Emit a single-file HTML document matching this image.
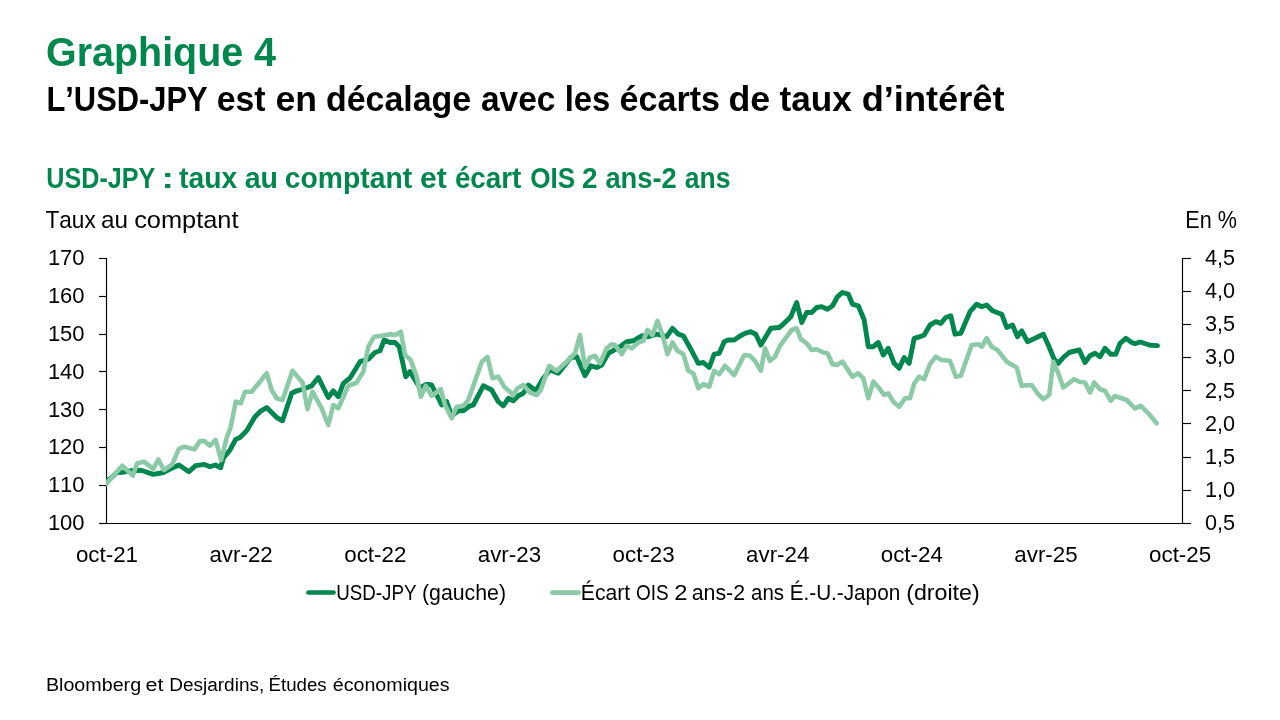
<!DOCTYPE html>
<html><head><meta charset="utf-8"><title>Graphique 4</title>
<style>
html,body{margin:0;padding:0;background:#fff;}
body{width:1280px;height:720px;overflow:hidden;font-family:"Liberation Sans",sans-serif;}
svg{display:block;will-change:transform;}
text{font-family:"Liberation Sans",sans-serif;font-kerning:none;font-variant-ligatures:none;}
</style></head><body>
<svg width="1280" height="720" viewBox="0 0 1280 720">
<rect width="1280" height="720" fill="#fff"/>
<path d="M106.5 258.0 V524" stroke="#000" stroke-width="1.15" fill="none"/>
<path d="M1182.5 258.0 V524" stroke="#000" stroke-width="1.15" fill="none"/>
<path d="M99 523.5 H1191" stroke="#000" stroke-width="1.15" fill="none"/>
<path d="M99 258.50 H106.5" stroke="#000" stroke-width="1.15"/>
<path d="M99 296.50 H106.5" stroke="#000" stroke-width="1.15"/>
<path d="M99 334.50 H106.5" stroke="#000" stroke-width="1.15"/>
<path d="M99 371.50 H106.5" stroke="#000" stroke-width="1.15"/>
<path d="M99 409.50 H106.5" stroke="#000" stroke-width="1.15"/>
<path d="M99 447.50 H106.5" stroke="#000" stroke-width="1.15"/>
<path d="M99 485.50 H106.5" stroke="#000" stroke-width="1.15"/>
<path d="M99 523.50 H106.5" stroke="#000" stroke-width="1.15"/>
<path d="M1182.5 258.50 H1191" stroke="#000" stroke-width="1.15"/>
<path d="M1182.5 291.50 H1191" stroke="#000" stroke-width="1.15"/>
<path d="M1182.5 324.50 H1191" stroke="#000" stroke-width="1.15"/>
<path d="M1182.5 357.50 H1191" stroke="#000" stroke-width="1.15"/>
<path d="M1182.5 390.50 H1191" stroke="#000" stroke-width="1.15"/>
<path d="M1182.5 423.50 H1191" stroke="#000" stroke-width="1.15"/>
<path d="M1182.5 457.50 H1191" stroke="#000" stroke-width="1.15"/>
<path d="M1182.5 490.50 H1191" stroke="#000" stroke-width="1.15"/>
<path d="M1182.5 523.50 H1191" stroke="#000" stroke-width="1.15"/>
<clipPath id="pc"><rect x="106" y="240" width="1085" height="290"/></clipPath><g clip-path="url(#pc)">
<polyline points="106.3,481.2 111.7,477.6 116.8,472.6 122.3,472.4 131.0,470.6 141.0,470.3 153.3,474.4 163.3,472.5 171.1,468.5 179.0,465.0 188.9,471.7 195.6,465.6 204.4,464.4 210.0,466.7 215.6,465.0 220.6,467.8 223.3,458.3 230.0,450.0 235.8,439.2 240.0,437.5 246.7,430.8 255.0,416.7 260.0,411.7 266.7,407.5 276.7,417.5 282.5,420.8 291.7,393.3 296.7,390.8 303.3,389.2 311.7,385.8 318.3,377.5 328.3,397.5 333.3,390.8 338.3,396.7 343.3,383.3 350.0,378.0 355.0,370.0 360.0,361.7 368.3,359.2 375.0,352.5 380.0,350.8 384.2,340.0 390.0,342.5 395.0,342.5 399.2,346.7 405.8,376.7 410.0,371.7 420.0,388.0 426.7,384.2 431.7,385.0 441.7,405.0 446.7,401.7 451.7,415.8 458.3,410.8 463.3,410.8 470.0,405.8 473.3,405.0 483.3,385.8 491.7,390.0 498.3,401.7 503.3,405.8 508.3,398.3 513.3,400.8 518.3,395.8 523.3,393.3 528.3,385.0 535.8,390.8 543.3,378.3 550.0,370.0 558.3,373.3 565.0,365.0 570.8,357.5 576.7,356.7 585.0,375.8 590.8,365.8 596.7,367.5 601.7,365.0 608.3,353.3 614.2,350.0 620.0,346.7 626.7,341.7 633.3,340.8 641.7,335.8 648.3,336.7 656.7,334.2 666.7,336.7 672.5,328.3 678.3,334.2 683.3,335.8 691.7,350.8 698.3,363.3 703.3,362.5 709.2,367.5 714.2,354.2 719.2,353.3 724.2,341.7 728.3,340.0 734.2,340.0 740.0,336.0 745.0,333.3 750.8,331.7 755.8,334.2 760.8,345.0 770.8,328.3 779.2,327.5 784.2,323.3 790.8,316.7 796.7,302.5 801.7,322.5 806.7,312.5 811.7,312.5 816.7,307.5 821.7,306.7 827.5,309.2 832.5,305.8 837.5,296.7 842.5,292.5 848.3,294.2 852.5,304.2 858.3,305.8 864.2,320.0 868.3,346.7 873.3,346.7 878.3,342.5 883.3,355.0 888.3,348.3 894.2,363.3 899.2,368.3 904.2,357.5 909.2,363.3 914.2,338.3 920.0,336.7 924.2,335.0 930.0,325.0 935.8,321.7 940.8,323.3 945.8,317.5 950.8,315.8 955.0,334.2 960.8,333.3 970.0,311.7 976.7,304.2 981.7,306.7 986.7,305.0 992.5,310.8 1001.7,314.2 1006.7,327.5 1012.5,325.0 1017.5,336.7 1021.7,330.8 1027.5,341.7 1035.0,338.3 1043.3,334.2 1048.3,345.0 1054.2,359.2 1058.3,363.3 1063.3,357.5 1069.2,352.5 1079.2,350.0 1085.0,362.5 1090.0,355.8 1095.0,353.3 1100.0,356.7 1105.0,348.3 1110.8,354.2 1115.8,354.2 1120.0,343.3 1125.8,338.3 1131.7,342.5 1135.0,343.6 1140.4,342.0 1150.0,345.3 1157.5,345.6" fill="none" stroke="#00874e" stroke-width="4.9" stroke-linejoin="round" stroke-linecap="round"/>
<polyline points="106.3,483.6 122.3,465.8 132.8,475.6 137.2,463.3 143.9,461.7 153.3,468.9 158.3,459.4 163.9,470.0 172.2,464.4 178.9,448.9 184.4,446.7 194.4,449.4 200.0,441.1 204.4,441.1 210.0,445.6 215.6,440.0 221.1,460.0 226.7,437.8 230.8,426.7 235.8,401.7 240.8,403.3 245.0,391.7 251.7,391.7 260.0,381.7 266.7,373.3 271.7,390.0 276.7,398.3 282.5,400.0 292.5,370.8 302.5,382.5 307.5,409.2 312.5,391.7 321.7,408.3 328.3,425.0 333.3,405.0 338.3,408.3 348.3,385.8 356.7,382.5 363.3,371.7 368.3,346.7 374.2,336.7 381.7,335.8 390.0,334.2 395.0,335.0 400.8,331.7 405.0,355.0 410.8,360.0 416.7,376.7 420.8,396.7 425.8,385.8 431.7,395.8 440.8,389.2 445.0,405.0 451.7,418.3 456.7,406.7 463.3,405.8 468.3,400.0 482.0,361.5 487.5,357.0 492.5,378.3 498.3,376.7 504.2,386.7 513.3,395.0 517.5,388.3 523.3,385.0 530.0,392.5 536.7,395.0 540.8,390.0 549.2,365.8 556.7,370.8 566.7,361.7 575.0,353.3 580.0,335.0 585.0,366.7 590.0,357.5 595.0,355.8 600.0,363.3 606.7,348.3 611.7,344.2 615.0,345.0 621.7,354.2 626.7,345.8 631.7,348.3 638.3,342.5 643.3,340.8 647.5,330.0 652.5,335.0 657.5,320.8 662.5,335.0 667.5,354.2 672.5,342.5 677.5,350.8 683.3,354.2 688.3,370.8 693.3,373.3 698.3,388.3 703.3,384.2 709.2,386.7 714.2,370.8 719.2,374.2 725.0,365.8 734.2,375.0 743.3,356.7 745.0,355.0 750.0,355.8 755.0,360.8 760.8,370.8 765.0,348.3 770.0,360.8 775.0,356.7 780.0,345.8 786.7,336.7 791.7,330.0 796.7,328.3 800.8,339.2 806.7,343.3 811.7,350.0 816.7,349.2 823.3,352.5 827.5,353.3 832.5,364.2 836.7,365.0 842.5,361.7 852.5,376.7 858.3,373.3 863.3,378.3 868.3,398.3 873.3,381.7 879.2,388.3 884.2,395.0 888.3,393.3 893.3,401.7 899.2,406.7 905.0,398.3 910.0,398.3 914.2,383.3 919.2,376.7 924.2,379.2 930.0,364.2 935.8,356.7 941.7,360.0 950.0,360.8 955.8,376.7 960.8,375.8 971.7,345.0 978.3,344.2 981.7,346.7 986.7,338.3 991.7,346.7 997.5,350.0 1006.7,361.7 1016.7,367.5 1021.7,385.8 1031.7,385.0 1037.5,393.3 1043.3,399.2 1049.2,395.0 1053.3,361.7 1058.3,373.3 1063.3,387.5 1074.2,379.2 1079.2,381.7 1085.0,382.5 1090.0,392.5 1094.2,382.5 1100.0,389.2 1105.0,390.8 1110.8,400.8 1115.0,395.8 1121.7,398.3 1126.7,400.0 1135.0,408.3 1140.8,405.8 1148.3,413.3 1156.7,423.3" fill="none" stroke="#8cc9a7" stroke-width="4.6" stroke-linejoin="round" stroke-linecap="round"/>
</g>
<text x="46.0" y="66.3" font-size="41.50" font-weight="bold" fill="#00874e" text-anchor="start" textLength="197.2" lengthAdjust="spacingAndGlyphs">Graphique</text>
<text x="253.9" y="66.3" font-size="41.50" font-weight="bold" fill="#00874e" text-anchor="start" textLength="22.0" lengthAdjust="spacingAndGlyphs">4</text>
<text x="46.4" y="111.4" font-size="35.50" font-weight="bold" fill="#000" text-anchor="start" textLength="161.3" lengthAdjust="spacingAndGlyphs">L’USD-JPY</text>
<text x="216.7" y="111.4" font-size="35.50" font-weight="bold" fill="#000" text-anchor="start" textLength="48.8" lengthAdjust="spacingAndGlyphs">est</text>
<text x="275.4" y="111.4" font-size="35.50" font-weight="bold" fill="#000" text-anchor="start" textLength="41.5" lengthAdjust="spacingAndGlyphs">en</text>
<text x="325.9" y="111.4" font-size="35.50" font-weight="bold" fill="#000" text-anchor="start" textLength="145.3" lengthAdjust="spacingAndGlyphs">décalage</text>
<text x="480.9" y="111.4" font-size="35.50" font-weight="bold" fill="#000" text-anchor="start" textLength="74.5" lengthAdjust="spacingAndGlyphs">avec</text>
<text x="564.7" y="111.4" font-size="35.50" font-weight="bold" fill="#000" text-anchor="start" textLength="45.6" lengthAdjust="spacingAndGlyphs">les</text>
<text x="619.6" y="111.4" font-size="35.50" font-weight="bold" fill="#000" text-anchor="start" textLength="100.4" lengthAdjust="spacingAndGlyphs">écarts</text>
<text x="728.5" y="111.4" font-size="35.50" font-weight="bold" fill="#000" text-anchor="start" textLength="41.7" lengthAdjust="spacingAndGlyphs">de</text>
<text x="779.6" y="111.4" font-size="35.50" font-weight="bold" fill="#000" text-anchor="start" textLength="72.3" lengthAdjust="spacingAndGlyphs">taux</text>
<text x="861.7" y="111.4" font-size="35.50" font-weight="bold" fill="#000" text-anchor="start" textLength="142.8" lengthAdjust="spacingAndGlyphs">d’intérêt</text>
<text x="46.2" y="188.3" font-size="29.30" font-weight="bold" fill="#00874e" text-anchor="start" textLength="109.2" lengthAdjust="spacingAndGlyphs">USD-JPY</text>
<text x="161.4" y="188.3" font-size="29.30" font-weight="bold" fill="#00874e" text-anchor="start" textLength="12.4" lengthAdjust="spacingAndGlyphs">:</text>
<text x="179.1" y="188.3" font-size="29.30" font-weight="bold" fill="#00874e" text-anchor="start" textLength="58.2" lengthAdjust="spacingAndGlyphs">taux</text>
<text x="244.7" y="188.3" font-size="29.30" font-weight="bold" fill="#00874e" text-anchor="start" textLength="33.3" lengthAdjust="spacingAndGlyphs">au</text>
<text x="284.8" y="188.3" font-size="29.30" font-weight="bold" fill="#00874e" text-anchor="start" textLength="127.4" lengthAdjust="spacingAndGlyphs">comptant</text>
<text x="420.0" y="188.3" font-size="29.30" font-weight="bold" fill="#00874e" text-anchor="start" textLength="26.8" lengthAdjust="spacingAndGlyphs">et</text>
<text x="454.9" y="188.3" font-size="29.30" font-weight="bold" fill="#00874e" text-anchor="start" textLength="66.5" lengthAdjust="spacingAndGlyphs">écart</text>
<text x="530.3" y="188.3" font-size="29.30" font-weight="bold" fill="#00874e" text-anchor="start" textLength="44.9" lengthAdjust="spacingAndGlyphs">OIS</text>
<text x="582.1" y="188.3" font-size="29.30" font-weight="bold" fill="#00874e" text-anchor="start" textLength="15.5" lengthAdjust="spacingAndGlyphs">2</text>
<text x="605.4" y="188.3" font-size="29.30" font-weight="bold" fill="#00874e" text-anchor="start" textLength="71.3" lengthAdjust="spacingAndGlyphs">ans-2</text>
<text x="684.8" y="188.3" font-size="29.30" font-weight="bold" fill="#00874e" text-anchor="start" textLength="45.6" lengthAdjust="spacingAndGlyphs">ans</text>
<text x="45.5" y="227.9" font-size="23.80" font-weight="normal" fill="#000" text-anchor="start" textLength="50.2" lengthAdjust="spacingAndGlyphs">Taux</text>
<text x="100.9" y="227.9" font-size="23.80" font-weight="normal" fill="#000" text-anchor="start" textLength="27.0" lengthAdjust="spacingAndGlyphs">au</text>
<text x="134.2" y="227.9" font-size="23.80" font-weight="normal" fill="#000" text-anchor="start" textLength="104.3" lengthAdjust="spacingAndGlyphs">comptant</text>
<text x="1185.3" y="227.9" font-size="23.80" font-weight="normal" fill="#000" text-anchor="start" textLength="51.6" lengthAdjust="spacingAndGlyphs">En %</text>
<text x="336.2" y="599.8" font-size="22.70" font-weight="normal" fill="#000" text-anchor="start" textLength="80.2" lengthAdjust="spacingAndGlyphs">USD-JPY</text>
<text x="422.0" y="599.8" font-size="22.70" font-weight="normal" fill="#000" text-anchor="start" textLength="84.0" lengthAdjust="spacingAndGlyphs">(gauche)</text>
<text x="580.8" y="599.8" font-size="22.70" font-weight="normal" fill="#000" text-anchor="start" textLength="49.3" lengthAdjust="spacingAndGlyphs">Écart</text>
<text x="636.1" y="599.8" font-size="22.70" font-weight="normal" fill="#000" text-anchor="start" textLength="32.6" lengthAdjust="spacingAndGlyphs">OIS</text>
<text x="674.2" y="599.8" font-size="22.70" font-weight="normal" fill="#000" text-anchor="start" textLength="13.2" lengthAdjust="spacingAndGlyphs">2</text>
<text x="691.7" y="599.8" font-size="22.70" font-weight="normal" fill="#000" text-anchor="start" textLength="53.4" lengthAdjust="spacingAndGlyphs">ans-2</text>
<text x="751.0" y="599.8" font-size="22.70" font-weight="normal" fill="#000" text-anchor="start" textLength="33.0" lengthAdjust="spacingAndGlyphs">ans</text>
<text x="789.7" y="599.8" font-size="22.70" font-weight="normal" fill="#000" text-anchor="start" textLength="110.5" lengthAdjust="spacingAndGlyphs">É.-U.-Japon</text>
<text x="906.2" y="599.8" font-size="22.70" font-weight="normal" fill="#000" text-anchor="start" textLength="73.5" lengthAdjust="spacingAndGlyphs">(droite)</text>
<text x="45.9" y="690.6" font-size="18.00" font-weight="normal" fill="#000" text-anchor="start" textLength="95.2" lengthAdjust="spacingAndGlyphs">Bloomberg</text>
<text x="145.5" y="690.6" font-size="18.00" font-weight="normal" fill="#000" text-anchor="start" textLength="17.9" lengthAdjust="spacingAndGlyphs">et</text>
<text x="169.2" y="690.6" font-size="18.00" font-weight="normal" fill="#000" text-anchor="start" textLength="95.1" lengthAdjust="spacingAndGlyphs">Desjardins,</text>
<text x="268.5" y="690.6" font-size="18.00" font-weight="normal" fill="#000" text-anchor="start" textLength="58.1" lengthAdjust="spacingAndGlyphs">Études</text>
<text x="332.8" y="690.6" font-size="18.00" font-weight="normal" fill="#000" text-anchor="start" textLength="116.8" lengthAdjust="spacingAndGlyphs">économiques</text>
<text x="84.6" y="530.1" font-size="22.50" font-weight="normal" fill="#000" text-anchor="end" textLength="36.7" lengthAdjust="spacingAndGlyphs">100</text>
<text x="84.6" y="492.2" font-size="22.50" font-weight="normal" fill="#000" text-anchor="end" textLength="36.7" lengthAdjust="spacingAndGlyphs">110</text>
<text x="84.6" y="454.4" font-size="22.50" font-weight="normal" fill="#000" text-anchor="end" textLength="36.7" lengthAdjust="spacingAndGlyphs">120</text>
<text x="84.6" y="416.5" font-size="22.50" font-weight="normal" fill="#000" text-anchor="end" textLength="36.7" lengthAdjust="spacingAndGlyphs">130</text>
<text x="84.6" y="378.7" font-size="22.50" font-weight="normal" fill="#000" text-anchor="end" textLength="36.7" lengthAdjust="spacingAndGlyphs">140</text>
<text x="84.6" y="340.8" font-size="22.50" font-weight="normal" fill="#000" text-anchor="end" textLength="36.7" lengthAdjust="spacingAndGlyphs">150</text>
<text x="84.6" y="303.0" font-size="22.50" font-weight="normal" fill="#000" text-anchor="end" textLength="36.7" lengthAdjust="spacingAndGlyphs">160</text>
<text x="84.6" y="265.1" font-size="22.50" font-weight="normal" fill="#000" text-anchor="end" textLength="36.7" lengthAdjust="spacingAndGlyphs">170</text>
<text x="1205.0" y="530.0" font-size="22.50" font-weight="normal" fill="#000" text-anchor="start" textLength="30.1" lengthAdjust="spacingAndGlyphs">0,5</text>
<text x="1205.0" y="496.9" font-size="22.50" font-weight="normal" fill="#000" text-anchor="start" textLength="30.1" lengthAdjust="spacingAndGlyphs">1,0</text>
<text x="1205.0" y="463.8" font-size="22.50" font-weight="normal" fill="#000" text-anchor="start" textLength="30.1" lengthAdjust="spacingAndGlyphs">1,5</text>
<text x="1205.0" y="430.6" font-size="22.50" font-weight="normal" fill="#000" text-anchor="start" textLength="30.1" lengthAdjust="spacingAndGlyphs">2,0</text>
<text x="1205.0" y="397.5" font-size="22.50" font-weight="normal" fill="#000" text-anchor="start" textLength="30.1" lengthAdjust="spacingAndGlyphs">2,5</text>
<text x="1205.0" y="364.4" font-size="22.50" font-weight="normal" fill="#000" text-anchor="start" textLength="30.1" lengthAdjust="spacingAndGlyphs">3,0</text>
<text x="1205.0" y="331.2" font-size="22.50" font-weight="normal" fill="#000" text-anchor="start" textLength="30.1" lengthAdjust="spacingAndGlyphs">3,5</text>
<text x="1205.0" y="298.1" font-size="22.50" font-weight="normal" fill="#000" text-anchor="start" textLength="30.1" lengthAdjust="spacingAndGlyphs">4,0</text>
<text x="1205.0" y="265.0" font-size="22.50" font-weight="normal" fill="#000" text-anchor="start" textLength="30.1" lengthAdjust="spacingAndGlyphs">4,5</text>
<text x="107.0" y="561.9" font-size="22.50" font-weight="normal" fill="#000" text-anchor="middle" textLength="62.1" lengthAdjust="spacingAndGlyphs">oct-21</text>
<text x="241.1" y="561.9" font-size="22.50" font-weight="normal" fill="#000" text-anchor="middle" textLength="63.3" lengthAdjust="spacingAndGlyphs">avr-22</text>
<text x="375.3" y="561.9" font-size="22.50" font-weight="normal" fill="#000" text-anchor="middle" textLength="62.1" lengthAdjust="spacingAndGlyphs">oct-22</text>
<text x="509.4" y="561.9" font-size="22.50" font-weight="normal" fill="#000" text-anchor="middle" textLength="63.3" lengthAdjust="spacingAndGlyphs">avr-23</text>
<text x="643.6" y="561.9" font-size="22.50" font-weight="normal" fill="#000" text-anchor="middle" textLength="62.1" lengthAdjust="spacingAndGlyphs">oct-23</text>
<text x="777.7" y="561.9" font-size="22.50" font-weight="normal" fill="#000" text-anchor="middle" textLength="63.3" lengthAdjust="spacingAndGlyphs">avr-24</text>
<text x="911.8" y="561.9" font-size="22.50" font-weight="normal" fill="#000" text-anchor="middle" textLength="62.1" lengthAdjust="spacingAndGlyphs">oct-24</text>
<text x="1046.0" y="561.9" font-size="22.50" font-weight="normal" fill="#000" text-anchor="middle" textLength="63.3" lengthAdjust="spacingAndGlyphs">avr-25</text>
<text x="1180.1" y="561.9" font-size="22.50" font-weight="normal" fill="#000" text-anchor="middle" textLength="62.1" lengthAdjust="spacingAndGlyphs">oct-25</text>
<line x1="308.5" y1="592.5" x2="333.5" y2="592.5" stroke="#00874e" stroke-width="4.7" stroke-linecap="round"/>
<line x1="552.4" y1="592.6" x2="578.6" y2="592.6" stroke="#8cc9a7" stroke-width="4.7" stroke-linecap="round"/>
</svg>
</body></html>
